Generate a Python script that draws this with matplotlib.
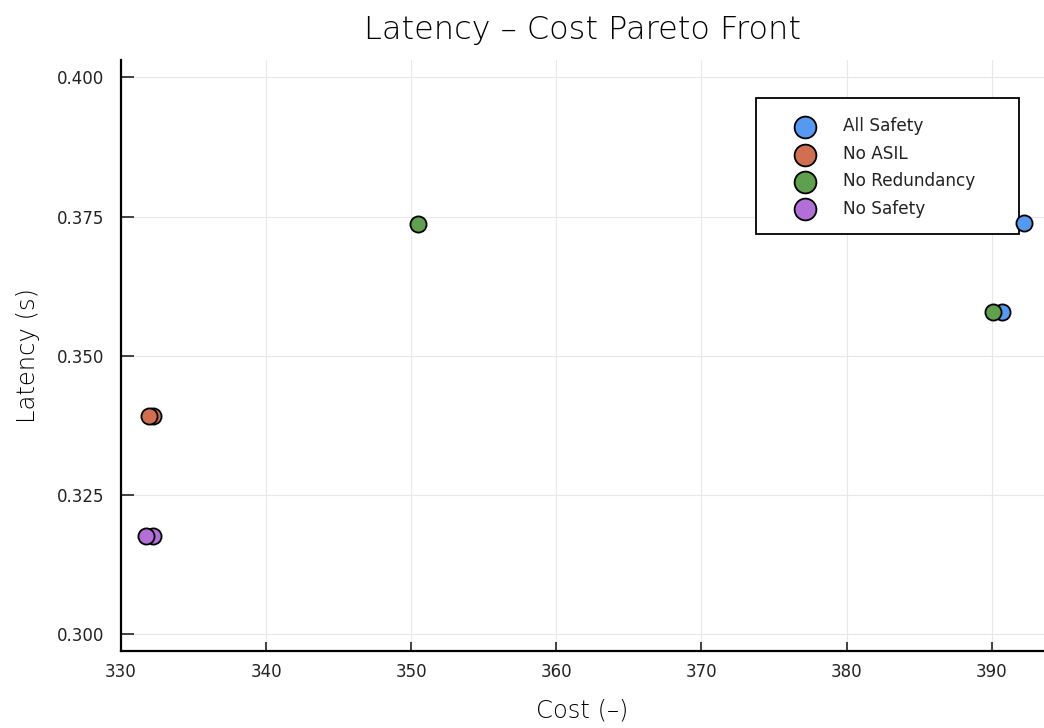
import matplotlib.pyplot as plt
from matplotlib.patches import Rectangle

plt.rcParams['font.family'] = ['DejaVu Sans']
plt.rcParams['axes.titleweight'] = 'light'
plt.rcParams['axes.labelweight'] = 'light'

labels = ['All Safety', 'No ASIL', 'No Redundancy', 'No Safety']
colors = ['#5599F2', '#D07050', '#5FA04E', '#B36FD8']

# cost, latency per configuration
cost = [
    [390.7, 392.2],
    [332.2, 331.9],
    [350.5, 390.1],
    [332.2, 331.7],
]
latency = [
    [0.3578, 0.3738],
    [0.3391, 0.3391],
    [0.3736, 0.3578],
    [0.3176, 0.3176],
]

fig = plt.figure(figsize=(10.44, 7.28), dpi=100)
ax = fig.add_axes([0.1159, 0.1058, 0.884, 0.8118])

for lab, c, xs, ys in zip(labels, colors, cost, latency):
    ax.scatter(xs, ys, s=135, color=c, edgecolor='black', linewidth=1.3,
               label=lab, zorder=3)

ax.set_xlim(330, 393.6)
ax.set_ylim(0.2970, 0.4031)
ax.set_xticks([330, 340, 350, 360, 370, 380, 390])
ax.set_yticks([0.300, 0.325, 0.350, 0.375, 0.400])
ax.set_yticklabels(['0.300', '0.325', '0.350', '0.375', '0.400'])
ax.grid(True, color='#e8e8e8', linewidth=0.8, zorder=0)
ax.tick_params(direction='in', width=1.2, labelsize=12, colors='#222222')
ax.tick_params(axis='y', length=9, pad=12)
ax.tick_params(axis='x', length=6.5, pad=9)
for s in ['top', 'right']:
    ax.spines[s].set_visible(False)
for s in ['left', 'bottom']:
    ax.spines[s].set_linewidth(1.6)

ax.set_title('Latency – Cost Pareto Front', fontsize=23, pad=15, color='black')
ax.set_xlabel('Cost (–)', fontsize=17.5, labelpad=12)
ax.set_ylabel('Latency (s)', fontsize=17.5, labelpad=12)

# legend frame drawn by hand so the padding matches
ax.add_patch(Rectangle((0.688, 0.7056), 0.285, 0.2301, transform=ax.transAxes,
                       facecolor='white', edgecolor='black', linewidth=1.3,
                       zorder=2))
leg = ax.legend(loc='upper left', bbox_to_anchor=(0.688, 0.9357), fontsize=12.2,
                markerscale=1.35, frameon=False, borderpad=1.15,
                handletextpad=0.5, labelspacing=0.56, borderaxespad=0,
                handlelength=3.5, labelcolor='#222222')
leg.set_zorder(2.5)

fig.savefig('out.png', dpi=100)
